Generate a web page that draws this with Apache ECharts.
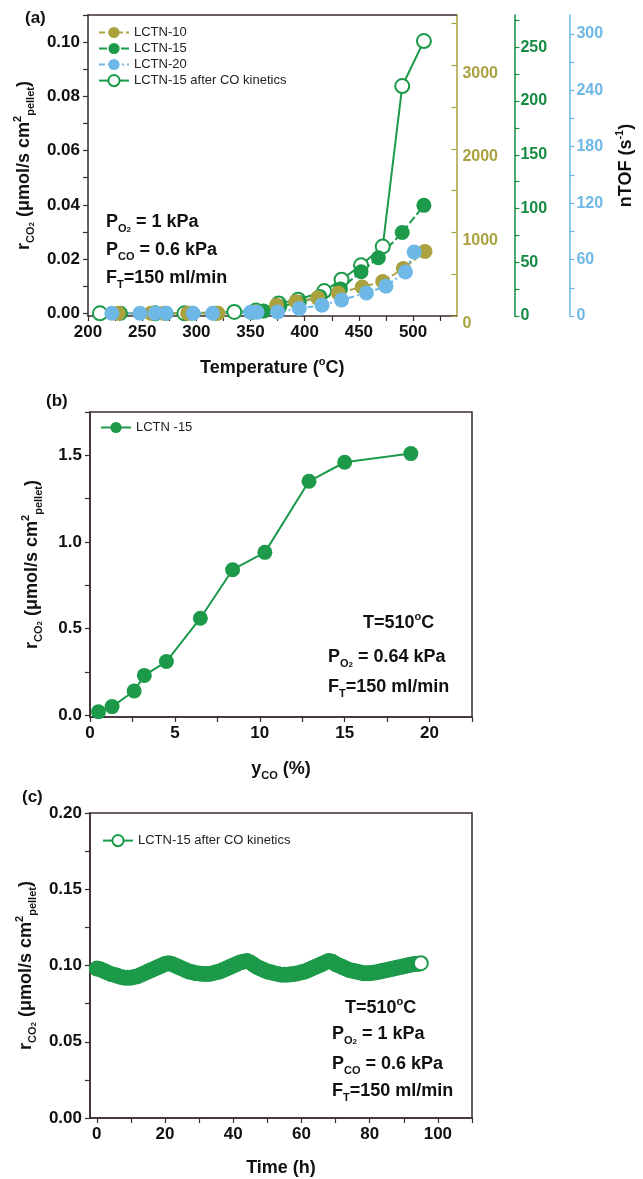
<!DOCTYPE html>
<html>
<head>
<meta charset="utf-8">
<script src="https://cdn.jsdelivr.net/npm/echarts@6/dist/echarts.min.js"></script>
<style>
  html, body { margin: 0; padding: 0; background: #fff; }
  #chart { width: 643px; height: 1179px; }
</style>
</head>
<body>
<div id="chart"></div>
<script>
// ---- panel (a): rate vs temperature ----
const tempLCTN10 = [228, 258, 270, 292, 320, 355, 374, 392, 412, 431, 453, 472, 491, 511];
const rateLCTN10 = [0, 0, 0, 0, 0, 0.0006, 0.003, 0.0043, 0.0057, 0.0075, 0.0097, 0.0117, 0.0165, 0.0228];
const tempLCTN15 = [230, 262, 272, 296, 318, 352, 362, 377, 395, 414, 433, 452, 468, 490, 510];
const rateLCTN15 = [0, 0, 0, 0, 0, 0.0004, 0.0008, 0.0025, 0.004, 0.0062, 0.009, 0.0153, 0.0205, 0.0298, 0.0398];
const tempLCTN20 = [222, 248, 262, 272, 297, 315, 350, 356, 375, 395, 416, 434, 457, 475, 493, 501];
const rateLCTN20 = [0, 0, 0, 0, 0, 0, 0.0004, 0.0004, 0.0005, 0.0018, 0.003, 0.0049, 0.0075, 0.010, 0.0152, 0.0226];
const tempAfterCO = [211, 262, 289, 335, 355, 376, 394, 418, 434, 452, 472, 490, 510];
const rateAfterCO = [0, 0, 0, 0.0005, 0.001, 0.0036, 0.005, 0.0082, 0.0124, 0.0177, 0.0246, 0.0838, 0.1004];

// ---- panel (b): rate vs CO fraction ----
const yCO = [0.5, 1.3, 2.6, 3.2, 4.5, 6.5, 8.4, 10.3, 12.9, 15.0, 18.9];
const rateYCO = [0.02, 0.05, 0.14, 0.23, 0.31, 0.56, 0.84, 0.94, 1.35, 1.46, 1.51];

// ---- panel (c): stability run ----
const timeH = [0, 1, 2, 3, 4, 5, 6, 7, 8, 9, 10, 11, 12, 13, 14, 15, 16, 17, 18, 19,
  20, 21, 22, 23, 24, 25, 26, 27, 28, 29, 30, 31, 32, 33, 34, 35, 36, 37, 38, 39,
  40, 41, 42, 43, 44, 45, 46, 47, 48, 49, 50, 51, 52, 53, 54, 55, 56, 57, 58, 59,
  60, 61, 62, 63, 64, 65, 66, 67, 68, 69, 70, 71, 72, 73, 74, 75, 76, 77, 78, 79,
  80, 81, 82, 83, 84, 85, 86, 87, 88, 89, 90, 91, 92, 93, 94, 95];
const rateTime = [0.098, 0.0975, 0.0965, 0.0955, 0.0945, 0.094, 0.0932, 0.0925, 0.092, 0.092,
  0.092, 0.0925, 0.093, 0.094, 0.095, 0.096, 0.097, 0.098, 0.099, 0.100,
  0.101, 0.1015, 0.101, 0.100, 0.099, 0.098, 0.097, 0.096, 0.0955, 0.095,
  0.0948, 0.0945, 0.0945, 0.0945, 0.095, 0.0955, 0.096, 0.097, 0.098, 0.099,
  0.100, 0.101, 0.102, 0.1025, 0.103, 0.102, 0.1005, 0.099, 0.098, 0.097,
  0.096, 0.0955, 0.095, 0.0945, 0.094, 0.094, 0.094, 0.0942, 0.0945, 0.095,
  0.0955, 0.096, 0.097, 0.098, 0.099, 0.100, 0.101, 0.102, 0.103, 0.1025,
  0.101, 0.100, 0.099, 0.098, 0.097, 0.0965, 0.096, 0.0955, 0.095, 0.095,
  0.095, 0.0952, 0.0955, 0.096, 0.0965, 0.097, 0.0975, 0.098, 0.0985, 0.099,
  0.0995, 0.100, 0.1005, 0.101, 0.101, 0.1015];

// tick / label positions
const tempLabels = [200, 250, 300, 350, 400, 450, 500];
const tempTicks = [200, 225, 250, 275, 300, 325, 350, 375, 400, 425, 450, 475, 500, 525];
const rateALabels = [0, 0.02, 0.04, 0.06, 0.08, 0.10];
const rateATicks = [0, 0.01, 0.02, 0.03, 0.04, 0.05, 0.06, 0.07, 0.08, 0.09, 0.10, 0.11];
const tofOliveLabels = [0, 1000, 2000, 3000];
const tofOliveTicks = [0, 500, 1000, 1500, 2000, 2500, 3000, 3500];
const tofGreenLabels = [0, 50, 100, 150, 200, 250];
const tofGreenTicks = [0, 25, 50, 75, 100, 125, 150, 175, 200, 225, 250, 275];
const tofBlueLabels = [0, 60, 120, 180, 240, 300];
const tofBlueTicks = [0, 30, 60, 90, 120, 150, 180, 210, 240, 270, 300];
const yCOLabels = [0, 5, 10, 15, 20];
const yCOTicks = [0, 2.5, 5, 7.5, 10, 12.5, 15, 17.5, 20, 22.5];
const rateBLabels = [0, 0.5, 1.0, 1.5];
const rateBTicks = [0, 0.25, 0.5, 0.75, 1.0, 1.25, 1.5, 1.75];
const timeLabels = [0, 20, 40, 60, 80, 100];
const timeTicks = [0, 10, 20, 30, 40, 50, 60, 70, 80, 90, 100, 110];
const rateCLabels = [0, 0.05, 0.10, 0.15, 0.20];
const rateCTicks = [0, 0.025, 0.05, 0.075, 0.10, 0.125, 0.15, 0.175, 0.20];

const FONT = '"Liberation Sans", Arial, sans-serif';
const OLIVE = '#aaa23e';
const GREEN = '#1c9a4a';
const GREEN_TXT = '#148a42';
const BLUE = '#6db8e6';
const FRAME = '#3a2c2c';

const zip = (xs, ys) => xs.map((x, i) => [x, ys[i]]);

const rich = {
  b: { fontSize: 18, fontWeight: 'bold', fontFamily: FONT, color: '#111', lineHeight: 24 },
  s: { fontSize: 11, fontWeight: 'bold', fontFamily: FONT, color: '#111', lineHeight: 12, verticalAlign: 'bottom' },
  ss: { fontSize: 8, fontWeight: 'bold', fontFamily: FONT, color: '#111', lineHeight: 7, verticalAlign: 'bottom' },
  u: { fontSize: 11, fontWeight: 'bold', fontFamily: FONT, color: '#111', lineHeight: 12, verticalAlign: 'top' }
};
const rateName = '{b|r}{s|CO}{ss|2}{b| (μmol/s cm}{u|2}{s|pellet}{b|)}';

function valueAxis(opts) {
  return Object.assign({
    type: 'value',
    axisLine: { show: true, onZero: false, lineStyle: { color: FRAME, width: 1.5 } },
    axisTick: { show: true, length: 5, lineStyle: { color: FRAME, width: 1.2 } },
    splitLine: { show: false },
    axisLabel: { fontFamily: FONT, fontSize: 17, fontWeight: 'bold', color: '#111', margin: 8 },
    nameTextStyle: { rich: rich }
  }, opts);
}

function labels(values, fmt, extra) {
  return Object.assign({ fontFamily: FONT, fontSize: 17, fontWeight: 'bold', color: '#111', margin: 8,
    customValues: values, formatter: fmt }, extra || {});
}

function ticks(values, color) {
  return { show: true, length: 5, customValues: values, lineStyle: { color: color || FRAME, width: 1.2 } };
}

function note(text, left, cy) {
  return { type: 'text', left: left, top: cy - 12, z: 100,
    style: { text: text, rich: rich, fill: '#111', fontFamily: FONT } };
}

const chart = echarts.init(document.getElementById('chart'), null, { renderer: 'canvas' });

chart.setOption({
  animation: false,
  backgroundColor: '#fff',
  textStyle: { fontFamily: FONT },
  grid: [
    { left: 88, top: 15, width: 376, height: 301, show: false },
    { left: 90, top: 412, width: 382, height: 305, show: true, borderColor: FRAME, borderWidth: 1.5 },
    { left: 90, top: 813, width: 382, height: 305, show: true, borderColor: FRAME, borderWidth: 1.5 }
  ],
  legend: [
    {
      left: 93, top: 21, orient: 'vertical', itemGap: 3, itemWidth: 30, itemHeight: 14,
      textStyle: { fontFamily: FONT, fontSize: 13, color: '#222' },
      data: ['LCTN-10', 'LCTN-15', 'LCTN-20', 'LCTN-15 after CO kinetics']
    },
    {
      left: 95, top: 416, itemWidth: 30, itemHeight: 14,
      textStyle: { fontFamily: FONT, fontSize: 13, color: '#222' },
      data: ['LCTN -15']
    },
    {
      left: 97, top: 829, itemWidth: 30, itemHeight: 14,
      textStyle: { fontFamily: FONT, fontSize: 13, color: '#222' },
      data: ['LCTN-15 after CO kinetics ']
    }
  ],
  xAxis: [
    valueAxis({
      gridIndex: 0, min: 200, max: 540,
      axisLabel: labels(tempLabels, v => String(v)),
      axisTick: ticks(tempTicks),
      name: '{b|Temperature (}{u|o}{b|C)}', nameLocation: 'middle', nameGap: 40
    }),
    valueAxis({
      gridIndex: 0, position: 'top', min: 200, max: 540,
      axisTick: { show: false }, axisLabel: { show: false }
    }),
    valueAxis({
      gridIndex: 1, min: 0, max: 22.5,
      axisLabel: labels(yCOLabels, v => String(v)),
      axisTick: ticks(yCOTicks),
      name: '{b|y}{s|CO}{b| (%)}', nameLocation: 'middle', nameGap: 40
    }),
    valueAxis({
      gridIndex: 2, min: -2, max: 110,
      axisLabel: labels(timeLabels, v => String(v)),
      axisTick: ticks(timeTicks),
      name: '{b|Time (h)}', nameLocation: 'middle', nameGap: 38
    })
  ],
  yAxis: [
    valueAxis({
      gridIndex: 0, min: -0.001, max: 0.11,
      axisLabel: labels(rateALabels, v => v.toFixed(2)),
      axisTick: ticks(rateATicks),
      name: rateName, nameLocation: 'middle', nameGap: 50, nameRotate: 90
    }),
    valueAxis({
      gridIndex: 0, position: 'right', offset: 0, min: 0, max: 3600,
      axisLine: { show: true, onZero: false, lineStyle: { color: OLIVE, width: 1.5 } },
      axisLabel: labels(tofOliveLabels, v => String(v), { color: OLIVE, fontSize: 16, margin: 6, verticalAlign: 'top' }),
      axisTick: Object.assign(ticks(tofOliveTicks, OLIVE), { inside: true })
    }),
    valueAxis({
      gridIndex: 0, position: 'right', offset: 58, min: 0, max: 280,
      axisLine: { show: true, onZero: false, lineStyle: { color: GREEN_TXT, width: 1.5 } },
      axisLabel: labels(tofGreenLabels, v => String(v), { color: GREEN_TXT, fontSize: 16, margin: 6 }),
      axisTick: ticks(tofGreenTicks, GREEN_TXT)
    }),
    valueAxis({
      gridIndex: 0, position: 'right', offset: 113, min: 0, max: 320,
      axisLine: { show: true, onZero: false, lineStyle: { color: BLUE, width: 1.5 } },
      axisLabel: labels(tofBlueLabels, v => String(v), { color: BLUE, fontSize: 16, margin: 7 }),
      axisTick: ticks(tofBlueTicks, BLUE),
      name: '{b|nTOF (s}{u|-1}{b|)}', nameLocation: 'middle', nameGap: 36, nameRotate: 90
    }),
    valueAxis({
      gridIndex: 1, min: -0.01, max: 1.75,
      axisLabel: labels(rateBLabels, v => v.toFixed(1)),
      axisTick: ticks(rateBTicks),
      name: rateName, nameLocation: 'middle', nameGap: 46, nameRotate: 90
    }),
    valueAxis({
      gridIndex: 2, min: 0, max: 0.2,
      axisLabel: labels(rateCLabels, v => v.toFixed(2)),
      axisTick: ticks(rateCTicks),
      name: rateName, nameLocation: 'middle', nameGap: 50, nameRotate: 90
    })
  ],
  graphic: [
    { type: 'text', left: 25, top: 10, style: { text: '(a)', fill: '#111', font: 'bold 17px ' + FONT } },
    { type: 'text', left: 46, top: 393, style: { text: '(b)', fill: '#111', font: 'bold 17px ' + FONT } },
    { type: 'text', left: 22, top: 789, style: { text: '(c)', fill: '#111', font: 'bold 17px ' + FONT } },
    note('{b|P}{s|O}{ss|2}{b| = 1 kPa}', 106, 225),
    note('{b|P}{s|CO}{b| = 0.6 kPa}', 106, 253),
    note('{b|F}{s|T}{b|=150 ml/min}', 106, 281),
    note('{b|T=510}{u|o}{b|C}', 363, 623),
    note('{b|P}{s|O}{ss|2}{b| = 0.64 kPa}', 328, 660),
    note('{b|F}{s|T}{b|=150 ml/min}', 328, 690),
    note('{b|T=510}{u|o}{b|C}', 345, 1008),
    note('{b|P}{s|O}{ss|2}{b| = 1 kPa}', 332, 1037),
    note('{b|P}{s|CO}{b| = 0.6 kPa}', 332, 1067),
    note('{b|F}{s|T}{b|=150 ml/min}', 332, 1094)
  ],
  series: [
    {
      name: 'LCTN-15 after CO kinetics', type: 'line', xAxisIndex: 0, yAxisIndex: 0,
      data: zip(tempAfterCO, rateAfterCO), symbol: 'circle', symbolSize: 14,
      itemStyle: { color: '#fff', borderColor: GREEN, borderWidth: 2 },
      lineStyle: { color: GREEN, width: 2 }
    },
    {
      name: 'LCTN-15', type: 'line', xAxisIndex: 0, yAxisIndex: 0,
      data: zip(tempLCTN15, rateLCTN15), symbol: 'circle', symbolSize: 15,
      itemStyle: { color: GREEN },
      lineStyle: { color: GREEN, width: 2, type: [8, 3] }
    },
    {
      name: 'LCTN-10', type: 'line', xAxisIndex: 0, yAxisIndex: 0,
      data: zip(tempLCTN10, rateLCTN10), symbol: 'circle', symbolSize: 15,
      itemStyle: { color: OLIVE },
      lineStyle: { color: OLIVE, width: 2, type: [6, 3] }
    },
    {
      name: 'LCTN-20', type: 'line', xAxisIndex: 0, yAxisIndex: 0,
      data: zip(tempLCTN20, rateLCTN20), symbol: 'circle', symbolSize: 15,
      itemStyle: { color: BLUE },
      lineStyle: { color: BLUE, width: 2, type: [6, 3, 2, 3] }
    },
    {
      name: 'LCTN -15', type: 'line', xAxisIndex: 2, yAxisIndex: 4,
      data: zip(yCO, rateYCO), symbol: 'circle', symbolSize: 15,
      itemStyle: { color: GREEN },
      lineStyle: { color: GREEN, width: 2 }
    },
    {
      name: 'LCTN-15 after CO kinetics ', type: 'line', xAxisIndex: 3, yAxisIndex: 5,
      data: timeH.map((t, i) => i < timeH.length - 1
        ? { value: [t, rateTime[i]], itemStyle: { color: GREEN, borderColor: GREEN } }
        : { value: [t, rateTime[i]] }),
      symbol: 'circle', symbolSize: 14,
      itemStyle: { color: '#fff', borderColor: GREEN, borderWidth: 2 },
      lineStyle: { color: GREEN, width: 1 }
    }
  ]
});
</script>
</body>
</html>
